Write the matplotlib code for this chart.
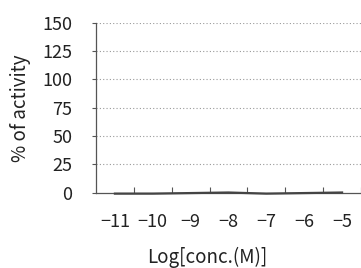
import matplotlib
matplotlib.use("Agg")
import matplotlib.pyplot as plt
import numpy as np

categories = ["−11", "−10", "−9", "−8", "−7", "−6", "−5"]
activity = [-1.0, -1.0, -0.5, 0.0, -1.0, -0.5, 0.0]
yticks = [0, 25, 50, 75, 100, 125, 150]

plt.rcParams['font.family'] = ['Noto Sans CJK JP', 'DejaVu Sans']

fig = plt.figure(figsize=(3.61, 2.68), dpi=100)
L, B, T = 96, 192.5, 23
ax = fig.add_axes([L/361, (268-B)/268, (361-L)/361, (B-T)/268])

x = np.arange(len(categories))
ax.plot(x, activity, color='#444444', lw=1.6, clip_on=False, zorder=3)

ax.set_ylim(0, 150)
ax.set_yticks(yticks)
ax.set_yticklabels([str(v) for v in yticks], fontsize=13, color='#222222')
for v in yticks[1:]:
    ax.axhline(v, color='#999999', lw=0.8, ls=(0, (1, 2)), zorder=1)

cat_w = 38.6
xmax = (361 - L) / cat_w - 0.5
ax.set_xlim(-0.5, xmax)
ax.set_xticks(x)
ax.set_xticklabels(categories, fontsize=13, color='#222222')
ax.tick_params(axis='x', which='major', length=0, pad=15)
ax.set_xticks(np.arange(len(categories)) + 0.5, minor=True)
ax.tick_params(axis='x', which='minor', direction='in', length=4, color='#555555', width=0.8)
ax.tick_params(axis='y', direction='out', length=3, color='#555555', width=0.8, pad=14)

for s in ['top', 'right']:
    ax.spines[s].set_visible(False)
for s in ['left', 'bottom']:
    ax.spines[s].set_color('#555555')
    ax.spines[s].set_linewidth(0.9)

ax.set_ylabel('% of activity', fontsize=13.5, color='#222222')
ax.yaxis.set_label_coords((31 - L) / (361 - L), 0.5)
ax.set_xlabel('Log[conc.(M)]', fontsize=13.5, color='#222222')
ax.xaxis.set_label_coords((207 - L) / (361 - L), -(247 - B) / (B - T))

fig.savefig('out.png', dpi=100)
